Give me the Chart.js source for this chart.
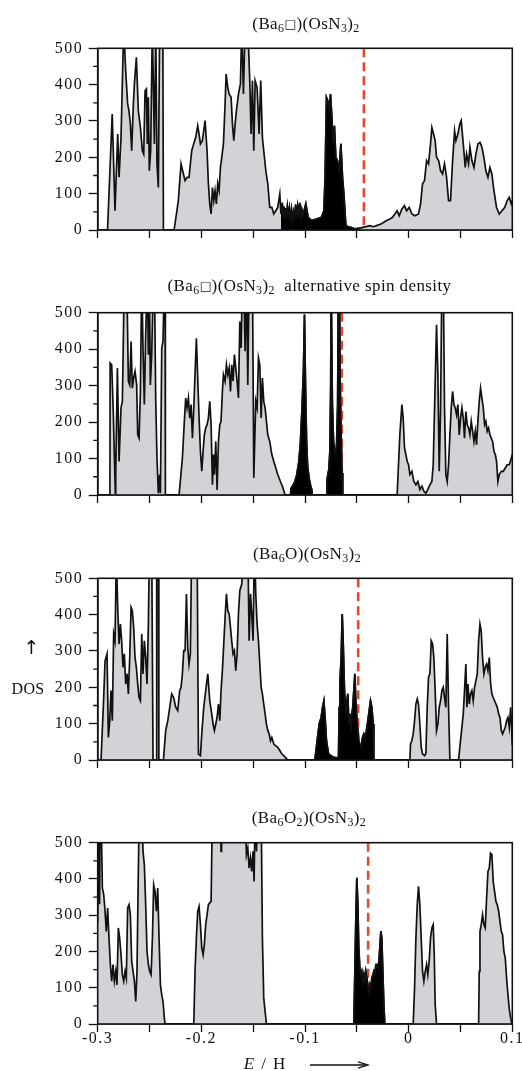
<!DOCTYPE html>
<html>
<head>
<meta charset="utf-8">
<script src="https://cdn.jsdelivr.net/npm/chart.js@4.4.1/dist/chart.umd.min.js"></script>
<style>
  html, body { margin: 0; padding: 0; background: #fff; }
  body { width: 522px; height: 1071px; position: relative; overflow: hidden;
         font-family: 'Liberation Serif', 'Times New Roman', serif; color: #111; }
  canvas { position: absolute; left: 0; }
  .t { position: absolute; white-space: nowrap; transform: translate(-50%, -50%);
       font-size: 17px; line-height: 1; letter-spacing: 0.4px; }
  .t sub { font-size: 70%; vertical-align: -0.32em; line-height: 0; }
  .sq { font-family: 'DejaVu Sans', sans-serif; font-size: 72%; vertical-align: 0.05em; }
  .up { font-family: 'DejaVu Sans', sans-serif; font-size: 19px; }
  .dos { font-size: 16px; letter-spacing: 0.3px; }
  .eh { font-size: 17px; word-spacing: 2px; }
  #arrow { position: absolute; left: 306px; top: 1059px; }
</style>
</head>
<body>
<canvas id="dos1" width="522" height="264" style="top:0px"></canvas>
<canvas id="dos2" width="522" height="266" style="top:264px"></canvas>
<canvas id="dos3" width="522" height="264" style="top:530px"></canvas>
<canvas id="dos4" width="522" height="277" style="top:794px"></canvas>

<div class="t" style="left:306px;top:23px">(Ba<sub>6</sub><span class="sq">□</span>)(OsN<sub>3</sub>)<sub>2</sub></div>
<div class="t" style="left:309.5px;top:285px">(Ba<sub>6</sub><span class="sq">□</span>)(OsN<sub>3</sub>)<sub>2</sub>&nbsp; alternative spin density</div>
<div class="t" style="left:307px;top:552.7px">(Ba<sub>6</sub>O)(OsN<sub>3</sub>)<sub>2</sub></div>
<div class="t" style="left:309px;top:816.7px">(Ba<sub>6</sub>O<sub>2</sub>)(OsN<sub>3</sub>)<sub>2</sub></div>
<div class="t up" style="left:31.7px;top:646.5px">↑</div>
<div class="t dos" style="left:28px;top:689px">DOS</div>
<div class="t eh" style="left:264.7px;top:1062.5px"><i>E</i> / H</div>
<svg id="arrow" width="66" height="12" viewBox="0 0 66 12">
  <line x1="4" y1="6" x2="60" y2="6" stroke="#111" stroke-width="1.3"/>
  <path d="M52 2.8 L62 6 L52 9.2" fill="none" stroke="#111" stroke-width="1.3"/>
</svg>

<script>
// Density of states, energy in hartree (E / H), DOS in states per hartree.
const energy1 = [
  -0.3000,-0.2905,-0.2860,-0.2833,-0.2807,-0.2794,-0.2775,-0.2749,-0.2730,-0.2711,
  -0.2698,-0.2685,-0.2672,-0.2656,-0.2646,-0.2627,-0.2608,-0.2588,-0.2569,-0.2556,
  -0.2543,-0.2530,-0.2521,-0.2511,-0.2502,-0.2489,-0.2473,-0.2453,-0.2440,-0.2428,
  -0.2415,-0.2402,-0.2372,-0.2366,-0.2263,-0.2222,-0.2196,-0.2173,-0.2157,-0.2138,
  -0.2119,-0.2093,-0.2074,-0.2054,-0.2035,-0.2022,-0.2009,-0.1990,-0.1964,-0.1945,
  -0.1932,-0.1919,-0.1906,-0.1893,-0.1880,-0.1868,-0.1855,-0.1842,-0.1829,-0.1816,
  -0.1803,-0.1787,-0.1771,-0.1761,-0.1745,-0.1732,-0.1713,-0.1700,-0.1687,-0.1674,
  -0.1662,-0.1642,-0.1623,-0.1610,-0.1594,-0.1578,-0.1552,-0.1533,-0.1520,-0.1507,
  -0.1494,-0.1481,-0.1462,-0.1443,-0.1427,-0.1411,-0.1398,-0.1378,-0.1359,-0.1340,
  -0.1320,-0.1301,-0.1282,-0.1263,-0.1243,-0.1232,-0.1220,-0.1212,-0.1205,-0.1195,
  -0.1188,-0.1180,-0.1170,-0.1160,-0.1150,-0.1140,-0.1130,-0.1120,-0.1110,-0.1100,
  -0.1090,-0.1080,-0.1070,-0.1060,-0.1050,-0.1040,-0.1030,-0.1020,-0.0992,-0.0970,
  -0.0938,-0.0889,-0.0841,-0.0818,-0.0806,-0.0793,-0.0780,-0.0767,-0.0754,-0.0741,
  -0.0728,-0.0716,-0.0703,-0.0687,-0.0670,-0.0654,-0.0638,-0.0625,-0.0606,-0.0584,
  -0.0551,-0.0519,-0.0471,-0.0374,-0.0342,-0.0310,-0.0262,-0.0213,-0.0181,-0.0156,
  -0.0133,-0.0111,-0.0091,-0.0065,-0.0040,-0.0020, 0.0005, 0.0031, 0.0060, 0.0095,
   0.0115, 0.0134, 0.0153, 0.0173, 0.0192, 0.0211, 0.0224, 0.0237, 0.0256, 0.0269,
   0.0289, 0.0308, 0.0327, 0.0346, 0.0366, 0.0385, 0.0404, 0.0424, 0.0443, 0.0456,
   0.0475, 0.0494, 0.0507, 0.0527, 0.0546, 0.0559, 0.0578, 0.0591, 0.0610, 0.0630,
   0.0649, 0.0668, 0.0688, 0.0707, 0.0726, 0.0745, 0.0765, 0.0784, 0.0803, 0.0823,
   0.0848, 0.0874, 0.0900, 0.0926, 0.0951, 0.0971, 0.0990, 0.1000
];
const dos1 = [
  0, 0, 319, 53, 264, 145, 255, 560, 438, 347,
  328, 292, 218, 347, 402, 475, 328, 282, 218, 209,
  383, 388, 237, 365, 163, 218, 560, 237, 560, 182,
  117, 560, 600, 0, 0, 81, 182, 154, 136, 145,
  145, 218, 237, 255, 287, 264, 237, 246, 301, 218,
  127, 72, 44, 117, 81, 108, 72, 127, 108, 172,
  200, 237, 347, 429, 392, 374, 365, 292, 246, 292,
  328, 374, 402, 560, 374, 560, 560, 411, 264, 411,
  218, 411, 392, 264, 411, 255, 218, 163, 127, 62,
  62, 44, 53, 62, 99, 45, 75, 40, 65, 30,
  60, 35, 65, 40, 60, 30, 55, 25, 50, 35,
  70, 30, 65, 45, 75, 35, 55, 40, 72, 35,
  26, 30, 35, 53, 145, 365, 356, 328, 374, 310,
  237, 287, 200, 191, 163, 237, 145, 99, 12, 9,
  7, 3, 5, 12, 9, 12, 17, 26, 30, 35,
  44, 53, 39, 58, 67, 53, 62, 44, 39, 44,
  72, 127, 136, 191, 182, 237, 282, 268, 246, 200,
  191, 163, 154, 182, 145, 81, 81, 191, 273, 246,
  264, 292, 301, 237, 172, 209, 182, 228, 191, 172,
  209, 237, 241, 228, 200, 163, 145, 172, 154, 108,
  62, 44, 53, 62, 81, 90, 72, 81
];

const energy2 = [
  -0.3000,-0.2882,-0.2880,-0.2865,-0.2849,-0.2830,-0.2826,-0.2810,-0.2794,-0.2775,
  -0.2762,-0.2743,-0.2720,-0.2704,-0.2691,-0.2678,-0.2666,-0.2653,-0.2640,-0.2624,
  -0.2614,-0.2601,-0.2588,-0.2575,-0.2563,-0.2550,-0.2537,-0.2521,-0.2511,-0.2502,
  -0.2492,-0.2479,-0.2463,-0.2453,-0.2440,-0.2428,-0.2415,-0.2402,-0.2395,-0.2382,
  -0.2370,-0.2357,-0.2350,-0.2347,-0.2215,-0.2183,-0.2164,-0.2151,-0.2138,-0.2125,
  -0.2112,-0.2099,-0.2086,-0.2073,-0.2061,-0.2048,-0.2035,-0.2022,-0.2009,-0.1996,
  -0.1983,-0.1971,-0.1958,-0.1945,-0.1932,-0.1919,-0.1906,-0.1893,-0.1884,-0.1874,
  -0.1861,-0.1848,-0.1835,-0.1822,-0.1810,-0.1797,-0.1787,-0.1771,-0.1758,-0.1745,
  -0.1732,-0.1719,-0.1707,-0.1694,-0.1681,-0.1668,-0.1655,-0.1642,-0.1629,-0.1616,
  -0.1604,-0.1591,-0.1578,-0.1565,-0.1552,-0.1539,-0.1507,-0.1494,-0.1475,-0.1462,
  -0.1449,-0.1436,-0.1423,-0.1411,-0.1398,-0.1385,-0.1372,-0.1359,-0.1340,-0.1320,
  -0.1301,-0.1282,-0.1263,-0.1237,-0.1218,-0.1192,-0.1140,-0.1135,-0.1120,-0.1100,
  -0.1080,-0.1060,-0.1045,-0.1030,-0.1015,-0.1005,-0.0995,-0.0985,-0.0975,-0.0960,
  -0.0945,-0.0935,-0.0930,-0.0790,-0.0788,-0.0780,-0.0770,-0.0760,-0.0752,-0.0748,
  -0.0742,-0.0736,-0.0725,-0.0715,-0.0705,-0.0695,-0.0685,-0.0678,-0.0668,-0.0660,
  -0.0650,-0.0642,-0.0636,-0.0111,-0.0098,-0.0085,-0.0065,-0.0053,-0.0040,-0.0027,
  -0.0014,-0.0001, 0.0012, 0.0031, 0.0050, 0.0070, 0.0089, 0.0108, 0.0128, 0.0147,
   0.0166, 0.0185, 0.0205, 0.0224, 0.0237, 0.0250, 0.0269, 0.0282, 0.0295, 0.0308,
   0.0321, 0.0334, 0.0346, 0.0359, 0.0372, 0.0385, 0.0398, 0.0411, 0.0424, 0.0437,
   0.0449, 0.0462, 0.0475, 0.0488, 0.0501, 0.0514, 0.0527, 0.0539, 0.0552, 0.0565,
   0.0578, 0.0591, 0.0604, 0.0617, 0.0630, 0.0643, 0.0655, 0.0668, 0.0681, 0.0694,
   0.0707, 0.0720, 0.0733, 0.0745, 0.0758, 0.0771, 0.0784, 0.0797, 0.0810, 0.0823,
   0.0836, 0.0848, 0.0861, 0.0874, 0.0894, 0.0913, 0.0932, 0.0951, 0.0971, 0.0990,
   0.1000
];
const dos2 = [
  0, 0, 362, 357, 220, 5, 60, 348, 92, 239,
  257, 600, 600, 312, 302, 421, 293, 321, 339, 302,
  165, 156, 284, 600, 403, 248, 440, 600, 385, 600,
  302, 385, 600, 600, 257, 101, 5, 56, 5, 403,
  421, 600, 600, 0, 0, 101, 202, 266, 239, 266,
  211, 248, 156, 239, 330, 430, 321, 211, 120, 65,
  120, 165, 184, 193, 211, 257, 193, 28, 111, 56,
  147, 14, 147, 193, 202, 284, 330, 312, 357, 330,
  348, 284, 357, 312, 385, 348, 312, 266, 476, 403,
  600, 600, 394, 600, 302, 600, 600, 47, 257, 239,
  376, 357, 211, 321, 257, 239, 202, 165, 147, 111,
  92, 74, 56, 37, 24, 0, 0, 18, 25, 35,
  55, 90, 140, 230, 340, 495, 300, 150, 80, 45,
  25, 15, 0, 0, 40, 55, 70, 120, 300, 600,
  600, 250, 150, 120, 110, 140, 250, 600, 600, 300,
  150, 60, 0, 0, 83, 165, 248, 211, 129, 111,
  92, 83, 56, 65, 37, 28, 37, 15, 24, 10,
  5, 15, 28, 37, 83, 239, 467, 330, 65, 239,
  600, 600, 239, 56, 37, 83, 165, 239, 284, 248,
  239, 220, 248, 165, 211, 239, 211, 156, 229, 193,
  184, 165, 202, 175, 147, 175, 138, 202, 257, 293,
  266, 239, 193, 202, 175, 184, 165, 156, 147, 120,
  111, 92, 37, 56, 65, 65, 74, 83, 83, 101,
  111
];

const energy3 = [
  -0.3000,-0.2968,-0.2946,-0.2929,-0.2910,-0.2897,-0.2884,-0.2872,-0.2859,-0.2846,
  -0.2833,-0.2820,-0.2807,-0.2794,-0.2781,-0.2769,-0.2756,-0.2743,-0.2730,-0.2717,
  -0.2704,-0.2691,-0.2678,-0.2666,-0.2653,-0.2640,-0.2627,-0.2614,-0.2601,-0.2588,
  -0.2575,-0.2563,-0.2550,-0.2537,-0.2524,-0.2511,-0.2501,-0.2479,-0.2466,-0.2436,
  -0.2431,-0.2415,-0.2410,-0.2366,-0.2344,-0.2324,-0.2305,-0.2286,-0.2267,-0.2247,
  -0.2228,-0.2209,-0.2196,-0.2183,-0.2170,-0.2157,-0.2144,-0.2131,-0.2119,-0.2106,
  -0.2093,-0.2041,-0.2028,-0.2009,-0.1996,-0.1977,-0.1958,-0.1938,-0.1919,-0.1900,
  -0.1887,-0.1874,-0.1861,-0.1848,-0.1835,-0.1822,-0.1810,-0.1797,-0.1784,-0.1771,
  -0.1758,-0.1745,-0.1732,-0.1719,-0.1707,-0.1694,-0.1681,-0.1668,-0.1655,-0.1642,
  -0.1629,-0.1610,-0.1591,-0.1552,-0.1539,-0.1526,-0.1514,-0.1501,-0.1488,-0.1475,
  -0.1462,-0.1449,-0.1436,-0.1423,-0.1411,-0.1398,-0.1385,-0.1372,-0.1359,-0.1346,
  -0.1333,-0.1320,-0.1301,-0.1282,-0.1263,-0.1243,-0.1224,-0.1205,-0.1185,-0.1166,
  -0.0905,-0.0883,-0.0863,-0.0844,-0.0831,-0.0818,-0.0806,-0.0793,-0.0773,-0.0748,
  -0.0722,-0.0696,-0.0677,-0.0670,-0.0664,-0.0651,-0.0641,-0.0632,-0.0619,-0.0606,
  -0.0596,-0.0587,-0.0577,-0.0567,-0.0558,-0.0548,-0.0539,-0.0529,-0.0519,-0.0510,
  -0.0500,-0.0490,-0.0481,-0.0471,-0.0458,-0.0445,-0.0432,-0.0419,-0.0407,-0.0394,
  -0.0381,-0.0368,-0.0355,-0.0342,-0.0336, 0.0012, 0.0018, 0.0031, 0.0044, 0.0057,
   0.0070, 0.0083, 0.0095, 0.0108, 0.0121, 0.0134, 0.0153, 0.0166, 0.0179, 0.0192,
   0.0205, 0.0218, 0.0231, 0.0243, 0.0256, 0.0269, 0.0282, 0.0295, 0.0308, 0.0321,
   0.0334, 0.0346, 0.0359, 0.0372, 0.0385, 0.0398, 0.0482, 0.0494, 0.0507, 0.0527,
   0.0539, 0.0552, 0.0562, 0.0572, 0.0585, 0.0597, 0.0610, 0.0623, 0.0636, 0.0649,
   0.0662, 0.0675, 0.0688, 0.0700, 0.0713, 0.0726, 0.0739, 0.0752, 0.0765, 0.0778,
   0.0791, 0.0803, 0.0816, 0.0829, 0.0842, 0.0855, 0.0868, 0.0881, 0.0894, 0.0906,
   0.0919, 0.0932, 0.0945, 0.0958, 0.0971, 0.0984, 0.0992, 0.1000
];
const dos3 = [
  0, 0, 145, 273, 292, 62, 108, 191, 108, 347,
  328, 560, 420, 319, 374, 328, 255, 292, 209, 237,
  182, 282, 420, 411, 365, 282, 255, 209, 172, 163,
  347, 237, 328, 282, 209, 374, 600, 600, 0, 0,
  600, 600, 0, 0, 81, 108, 145, 182, 172, 145,
  136, 191, 200, 237, 301, 301, 457, 310, 264, 292,
  600, 600, 16, 12, 72, 145, 191, 237, 163, 127,
  99, 81, 99, 117, 154, 108, 191, 246, 319, 392,
  457, 411, 402, 365, 328, 292, 301, 246, 292, 402,
  466, 484, 600, 600, 328, 457, 402, 328, 600, 457,
  374, 328, 264, 200, 182, 154, 127, 99, 81, 72,
  53, 62, 44, 39, 35, 26, 17, 12, 6, 0,
  0, 53, 99, 117, 145, 163, 117, 53, 17, 12,
  7, 6, 7, 145, 209, 282, 402, 328, 191, 127,
  163, 182, 99, 127, 81, 127, 145, 191, 237, 163,
  117, 81, 53, 44, 35, 62, 72, 62, 81, 108,
  136, 163, 145, 99, 0, 0, 44, 53, 72, 108,
  154, 168, 154, 99, 35, 17, 12, 17, 145, 228,
  237, 328, 319, 282, 191, 81, 99, 145, 163, 191,
  200, 172, 145, 347, 145, 0, 0, 35, 72, 127,
  191, 264, 145, 209, 154, 182, 191, 163, 200, 218,
  237, 328, 374, 356, 282, 237, 255, 264, 246, 282,
  209, 182, 172, 163, 154, 145, 127, 117, 81, 72,
  81, 90, 108, 117, 90, 145, 99, 40
];

const energy4 = [
  -0.3000,-0.2995,-0.2987,-0.2982,-0.2976,-0.2968,-0.2955,-0.2942,-0.2929,-0.2917,
  -0.2904,-0.2891,-0.2878,-0.2865,-0.2852,-0.2839,-0.2826,-0.2814,-0.2801,-0.2788,
  -0.2775,-0.2762,-0.2749,-0.2736,-0.2724,-0.2711,-0.2698,-0.2685,-0.2672,-0.2659,
  -0.2646,-0.2633,-0.2621,-0.2608,-0.2598,-0.2575,-0.2563,-0.2550,-0.2537,-0.2524,
  -0.2511,-0.2498,-0.2485,-0.2472,-0.2460,-0.2447,-0.2434,-0.2421,-0.2408,-0.2395,
  -0.2382,-0.2370,-0.2357,-0.2350,-0.2073,-0.2061,-0.2048,-0.2035,-0.2022,-0.2009,
  -0.1996,-0.1983,-0.1971,-0.1958,-0.1945,-0.1932,-0.1919,-0.1906,-0.1893,-0.1815,
  -0.1810,-0.1805,-0.1578,-0.1565,-0.1552,-0.1539,-0.1526,-0.1514,-0.1501,-0.1491,
  -0.1481,-0.1468,-0.1456,-0.1423,-0.1411,-0.1398,-0.1385,-0.1372,-0.0529,-0.0519,
  -0.0510,-0.0500,-0.0490,-0.0481,-0.0471,-0.0461,-0.0452,-0.0442,-0.0432,-0.0423,
  -0.0413,-0.0403,-0.0394,-0.0384,-0.0374,-0.0365,-0.0355,-0.0345,-0.0336,-0.0326,
  -0.0316,-0.0307,-0.0297,-0.0287,-0.0278,-0.0268,-0.0259,-0.0249,-0.0239,-0.0230,
   0.0044, 0.0057, 0.0070, 0.0083, 0.0095, 0.0108, 0.0121, 0.0134, 0.0147, 0.0160,
   0.0173, 0.0185, 0.0198, 0.0211, 0.0224, 0.0237, 0.0247, 0.0256, 0.0269, 0.0675,
   0.0681, 0.0688, 0.0700, 0.0713, 0.0726, 0.0739, 0.0752, 0.0765, 0.0778, 0.0790,
   0.0803, 0.0816, 0.0829, 0.0842, 0.0855, 0.0868, 0.0881, 0.0894, 0.0906, 0.0919,
   0.0932, 0.0945, 0.0958, 0.0971, 0.0984, 0.0996, 0.1000
];
const dos4 = [
  280, 600, 600, 330, 600, 600, 375, 357, 311, 255,
  320, 237, 164, 118, 164, 118, 145, 108, 265, 237,
  191, 136, 118, 145, 127, 320, 329, 301, 173, 145,
  118, 62, 145, 421, 600, 600, 476, 439, 329, 200,
  164, 145, 136, 237, 384, 366, 311, 375, 237, 108,
  81, 62, 17, 0, 0, 145, 237, 311, 324, 274,
  210, 191, 219, 274, 301, 329, 334, 338, 600, 600,
  476, 600, 600, 467, 485, 430, 458, 421, 476, 393,
  600, 476, 600, 600, 237, 72, 35, 0, 0, 145,
  283, 403, 329, 210, 154, 136, 145, 118, 136, 118,
  145, 127, 108, 90, 108, 99, 127, 136, 145, 136,
  164, 164, 154, 173, 210, 256, 237, 145, 51, 0,
  0, 99, 237, 329, 380, 329, 237, 145, 118, 145,
  164, 136, 173, 237, 265, 274, 191, 53, 0, 0,
  145, 255, 274, 301, 274, 265, 347, 421, 430, 471,
  467, 393, 366, 338, 329, 311, 283, 255, 246, 200,
  182, 127, 81, 41, 17, 0, 0
];

// Fermi level of each structure and the energy window drawn in solid black.
const fermiLevel = [-0.0432, -0.0645, -0.0487, -0.0391];
const blackFrom  = [-0.1232, -0.1140, -0.0905, -0.0529];
const blackTo    = [-0.0471, -0.0636, -0.0336, -0.0230];

// Axis ticks
const xTickPositions = [-0.3, -0.25, -0.2, -0.15, -0.1, -0.05, 0, 0.05, 0.1];
const xTickValues = [-0.3, -0.2, -0.1, 0, 0.1];
const xTickLabels = ['-0.3', '-0.2', '-0.1', '0', '0.1'];
const yTickValues = [0, 100, 200, 300, 400, 500];
const yTickLabels = ['0', '100', '200', '300', '400', '500'];
const yMinorTicks = [50, 150, 250, 350, 450];

const INK = '#111';
const GRAY_FILL = 'rgb(209,211,214)';
const FERMI_RED = '#e4482d';
const FONT = "'Liberation Serif', 'Times New Roman', serif";
const LINE_W = 1.7;

// Wider tracking for the tick numerals.
const trackingPlugin = {
  id: 'tracking',
  beforeDraw(chart) { chart.ctx.letterSpacing = '1.5px'; }
};

// Box round the plot area and the short unlabelled DOS ticks.
const framePlugin = {
  id: 'frame',
  afterDatasetsDraw(chart) {
    const { ctx, chartArea: a, scales: { y } } = chart;
    ctx.save();
    ctx.strokeStyle = INK;
    ctx.lineWidth = 1.6;
    ctx.strokeRect(a.left, a.top, a.right - a.left, a.bottom - a.top);
    ctx.lineWidth = 1.3;
    ctx.beginPath();
    for (const v of yMinorTicks) {
      const py = y.getPixelForValue(v);
      ctx.moveTo(a.left - 4.5, py);
      ctx.lineTo(a.left, py);
    }
    ctx.stroke();
    ctx.restore();
  }
};

function makePanel(canvasId, energy, dos, k, padTop, axisHeight, labelled) {
  if (energy.length !== dos.length) {
    throw new Error(canvasId + ': ' + energy.length + ' energies vs ' + dos.length + ' DOS values');
  }
  const all = energy.map((e, i) => ({ x: e, y: dos[i] }));
  const dark = all.filter(p => p.x >= blackFrom[k] - 1e-9 && p.x <= blackTo[k] + 1e-9);
  const fermi = [{ x: fermiLevel[k], y: 500 }, { x: fermiLevel[k], y: 0 }];

  return new Chart(document.getElementById(canvasId), {
    type: 'line',
    data: {
      datasets: [
        { data: dark, borderColor: INK, backgroundColor: '#000', fill: 'origin', borderWidth: LINE_W, clip: 0 },
        { data: fermi, borderColor: FERMI_RED, borderWidth: 2.6, borderDash: [9, 5], fill: false, clip: 0 },
        { data: all, borderColor: INK, backgroundColor: GRAY_FILL, fill: 'origin', borderWidth: LINE_W, clip: 0 }
      ]
    },
    options: {
      responsive: false,
      animation: false,
      devicePixelRatio: 1,
      events: [],
      layout: { padding: { top: padTop, right: 9.7, left: 0, bottom: 0 } },
      elements: { point: { radius: 0 }, line: { tension: 0, borderJoinStyle: 'miter' } },
      plugins: { legend: { display: false }, title: { display: false }, tooltip: { enabled: false } },
      scales: {
        x: {
          type: 'linear', min: -0.3, max: 0.1,
          afterBuildTicks(scale) { scale.ticks = xTickPositions.map(v => ({ value: v })); },
          ticks: {
            autoSkip: false, maxRotation: 0, minRotation: 0, padding: -1, color: INK,
            font: { family: FONT, size: 16, lineHeight: 1 },
            callback(v) {
              if (!labelled) return '';
              const i = xTickValues.findIndex(t => Math.abs(t - v) < 1e-9);
              return i < 0 ? '' : xTickLabels[i];
            }
          },
          grid: { drawOnChartArea: false, drawTicks: true, tickLength: 8, tickColor: INK, tickWidth: 1.3 },
          border: { display: true, color: INK, width: 1.6 },
          afterFit(s) { s.height = axisHeight; s.paddingLeft = 0; s.paddingRight = 0; }
        },
        y: {
          min: 0, max: 500,
          afterBuildTicks(scale) { scale.ticks = yTickValues.map(v => ({ value: v })); },
          ticks: {
            padding: 5.5, color: INK, font: { family: FONT, size: 16 },
            callback(v) { const i = yTickValues.indexOf(v); return i < 0 ? '' : yTickLabels[i]; }
          },
          grid: { drawOnChartArea: false, drawTicks: true, tickLength: 9, tickColor: INK, tickWidth: 1.3 },
          border: { display: true, color: INK, width: 1.6 },
          afterFit(s) { s.width = 97.7; s.paddingTop = 0; s.paddingBottom = 0; }
        }
      }
    },
    plugins: [trackingPlugin, framePlugin]
  });
}

makePanel('dos1', energy1, dos1, 0, 48.3, 34, false);
makePanel('dos2', energy2, dos2, 1, 48.7, 35, false);
makePanel('dos3', energy3, dos3, 2, 48.3, 34, false);
makePanel('dos4', energy4, dos4, 3, 48.7, 47, true);
</script>
</body>
</html>
